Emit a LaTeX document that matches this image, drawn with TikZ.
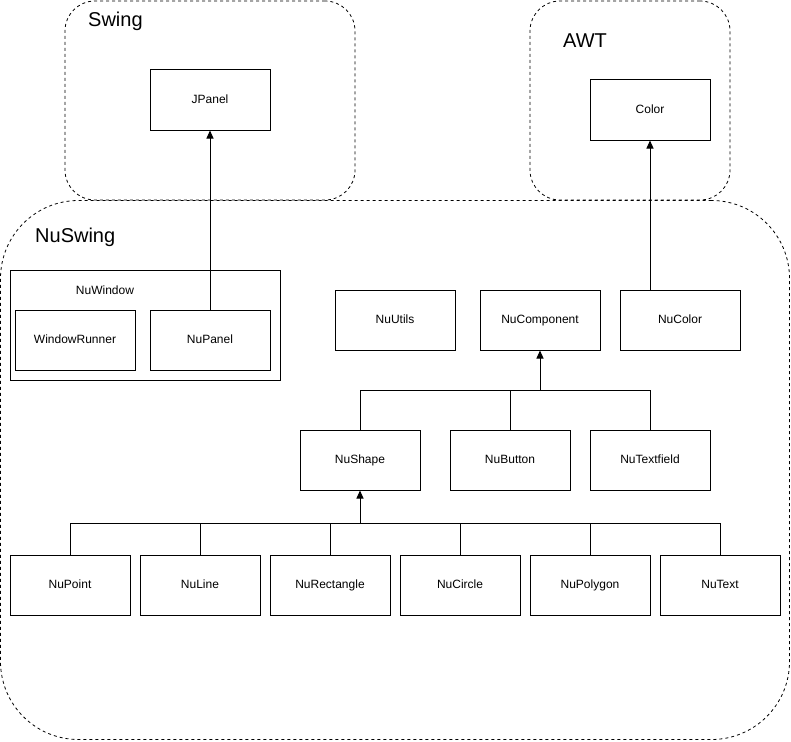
\documentclass[tikz,border=0pt]{standalone}
\usepackage{fontspec}
\setmainfont{Liberation Sans}
\usetikzlibrary{arrows.meta}
\begin{document}
\begin{tikzpicture}[x=1pt,y=-1pt,
  cls/.style={draw,line width=1pt,minimum width=120pt,minimum height=60pt,inner sep=0pt,text height=8.6pt,text depth=2.5pt,font=\fontsize{12}{14}\selectfont},
  pkg/.style={draw,line width=0.8pt,dash pattern=on 3pt off 3pt,inner sep=0pt},
  pkglabel/.style={anchor=west,inner sep=0pt,font=\fontsize{20}{24}\selectfont},
  conn/.style={line width=1pt},
  arr/.style={line width=1pt,-{Triangle[width=7pt,length=8pt]}}]
\useasboundingbox (0,0) rectangle (791,741);
% containers
\node[pkg,rounded corners=78pt,minimum width=789pt,minimum height=539pt] (nuswingpkg) at (395,470) {};
\node[pkg,rounded corners=30pt,minimum width=290pt,minimum height=199pt] (swingpkg) at (210,100.5) {};
\node[pkg,rounded corners=30pt,minimum width=200pt,minimum height=199pt] (awtpkg) at (630,100.5) {};
\node[pkglabel] (swinglbl) at (88,21) {Swing};
\node[pkglabel] (awtlbl) at (563,41) {AWT};
\node[pkglabel] (nuswinglbl) at (35,237) {NuSwing};
% classes
\node[cls] (jpanel) at (210,100) {JPanel};
\node[cls] (color) at (650,110) {Color};
\node[draw,line width=1pt,minimum width=270pt,minimum height=110pt,inner sep=0pt] (nuwindow) at (145,325) {};
\node[inner sep=0pt,text height=8.6pt,text depth=2.5pt,font=\fontsize{12}{14}\selectfont] (nuwindowlbl) at (105,291) {NuWindow};
\node[cls] (windowrunner) at (75,340) {WindowRunner};
\node[cls] (nupanel) at (210,340) {NuPanel};
\node[cls] (nuutils) at (395,320) {NuUtils};
\node[cls] (nucomponent) at (540,320) {NuComponent};
\node[cls] (nucolor) at (680,320) {NuColor};
\node[cls] (nushape) at (360,460) {NuShape};
\node[cls] (nubutton) at (510,460) {NuButton};
\node[cls] (nutextfield) at (650,460) {NuTextfield};
\node[cls] (nupoint) at (70,585) {NuPoint};
\node[cls] (nuline) at (200,585) {NuLine};
\node[cls] (nurectangle) at (330,585) {NuRectangle};
\node[cls] (nucircle) at (460,585) {NuCircle};
\node[cls] (nupolygon) at (590,585) {NuPolygon};
\node[cls] (nutext) at (720,585) {NuText};
% connectors
\draw[arr] (nupanel.north) -- (jpanel.south);
\draw[arr] (color.south |- nucolor.north) -- (color.south);
\coordinate (bus1) at (540,390);
\draw[conn] (nushape.north) -- (nushape.north |- bus1) -- (nutextfield.north |- bus1) -- (nutextfield.north);
\draw[conn] (nubutton.north) -- (nubutton.north |- bus1);
\draw[arr] (bus1) -- (nucomponent.south);
\coordinate (bus2) at (360,523);
\draw[conn] (nupoint.north) -- (nupoint.north |- bus2) -- (nutext.north |- bus2) -- (nutext.north);
\draw[conn] (nuline.north) -- (nuline.north |- bus2);
\draw[conn] (nurectangle.north) -- (nurectangle.north |- bus2);
\draw[conn] (nucircle.north) -- (nucircle.north |- bus2);
\draw[conn] (nupolygon.north) -- (nupolygon.north |- bus2);
\draw[arr] (bus2) -- (nushape.south);
\end{tikzpicture}
\end{document}
